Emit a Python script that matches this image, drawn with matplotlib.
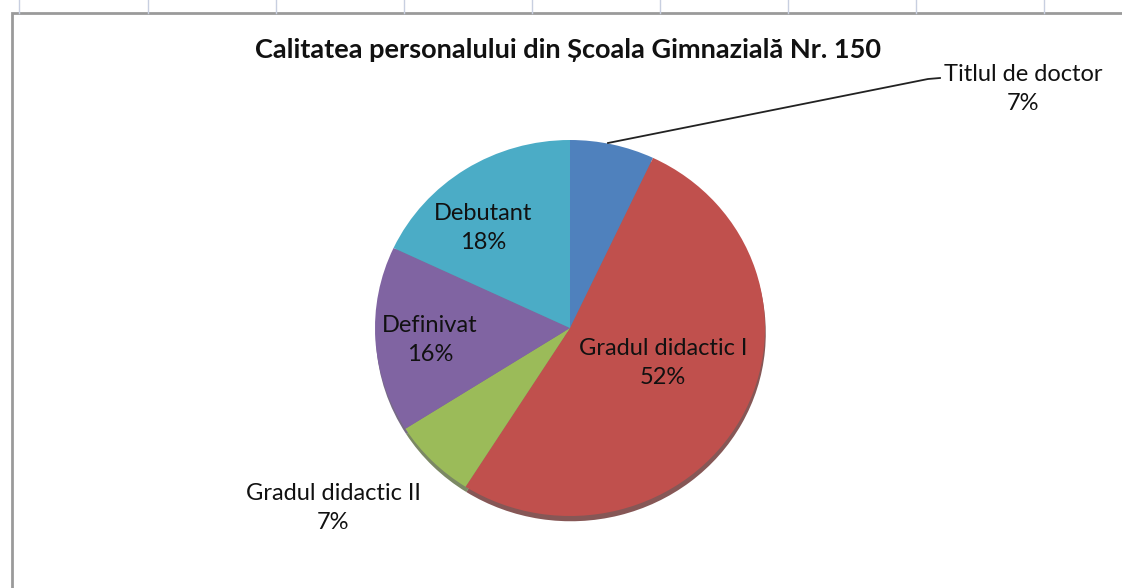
import numpy as np
import matplotlib.pyplot as plt
from matplotlib.patches import Rectangle

# ---- data ----
categories = ['Titlul de doctor', 'Gradul didactic I', 'Gradul didactic II',
              'Definivat', 'Debutant']
shares = [7, 52, 7, 16, 18]
colors = ['#4F81BD', '#C0504D', '#9BBB59', '#8064A2', '#4BACC6']
shadow_colors = ['#2f4d70', '#5e1f1d', '#4f6030', '#4a3a5e', '#2c6573']
TITLE = 'Calitatea personalului din Școala Gimnazială Nr. 150'

W, H = 1122, 588
FONT = 'Lato'

fig = plt.figure(figsize=(W / 100, H / 100), dpi=100)


def pixel_axes():
    a = fig.add_axes([0, 0, 1, 1])
    a.set_xlim(0, W)
    a.set_ylim(H, 0)
    a.axis('off')
    return a


# background: spreadsheet column lines + chart border
bg = pixel_axes()
for x in [19, 148, 276, 404, 532, 660, 788, 916, 1044]:
    bg.plot([x, x], [0, 13], color='#c8cfe0', lw=1.0)
bg.add_patch(Rectangle((12, 13), W + 20, H + 20, facecolor='white',
                       edgecolor='#9a9a9a', lw=2.0, zorder=0))

# pie axes placed on the chart area
px0, px1, py0, py1 = 375, 765, 140, 516
pie_ax = fig.add_axes([px0 / W, (H - py1) / H, (px1 - px0) / W, (py1 - py0) / H])
# shadow below the pie (gives the slight 3D look)
pie_ax.pie(shares, colors=shadow_colors, startangle=90, counterclock=False,
           center=(0.004, -0.028), radius=1.0,
           wedgeprops=dict(linewidth=0, alpha=0.75))
pie_ax.pie(shares, colors=colors, startangle=90, counterclock=False,
           radius=1.0, wedgeprops=dict(linewidth=0))
pie_ax.set_aspect('auto')
pie_ax.set_xlim(-1, 1)
pie_ax.set_ylim(-1, 1)
pie_ax.axis('off')

# overlay: title, labels, leader line
top = pixel_axes()
top.text(568, 50, TITLE, ha='center', va='center', fontsize=19.5,
         fontweight='bold', family=FONT, color='#111111')

label_pos = {
    'Titlul de doctor': (1023, 89),
    'Gradul didactic I': (663, 363),
    'Gradul didactic II': (333, 508),
    'Definivat': (430, 340),
    'Debutant': (483, 228),
}
for name, val in zip(categories, shares):
    x, y = label_pos[name]
    top.text(x, y, f'{name}\n{val}%', ha='center', va='center',
             fontsize=17, family=FONT, color='#111111', linespacing=1.42)

top.plot([608, 928, 940], [143, 79, 78], color='#222222', lw=1.3)

fig.savefig('out.png', dpi=100)
